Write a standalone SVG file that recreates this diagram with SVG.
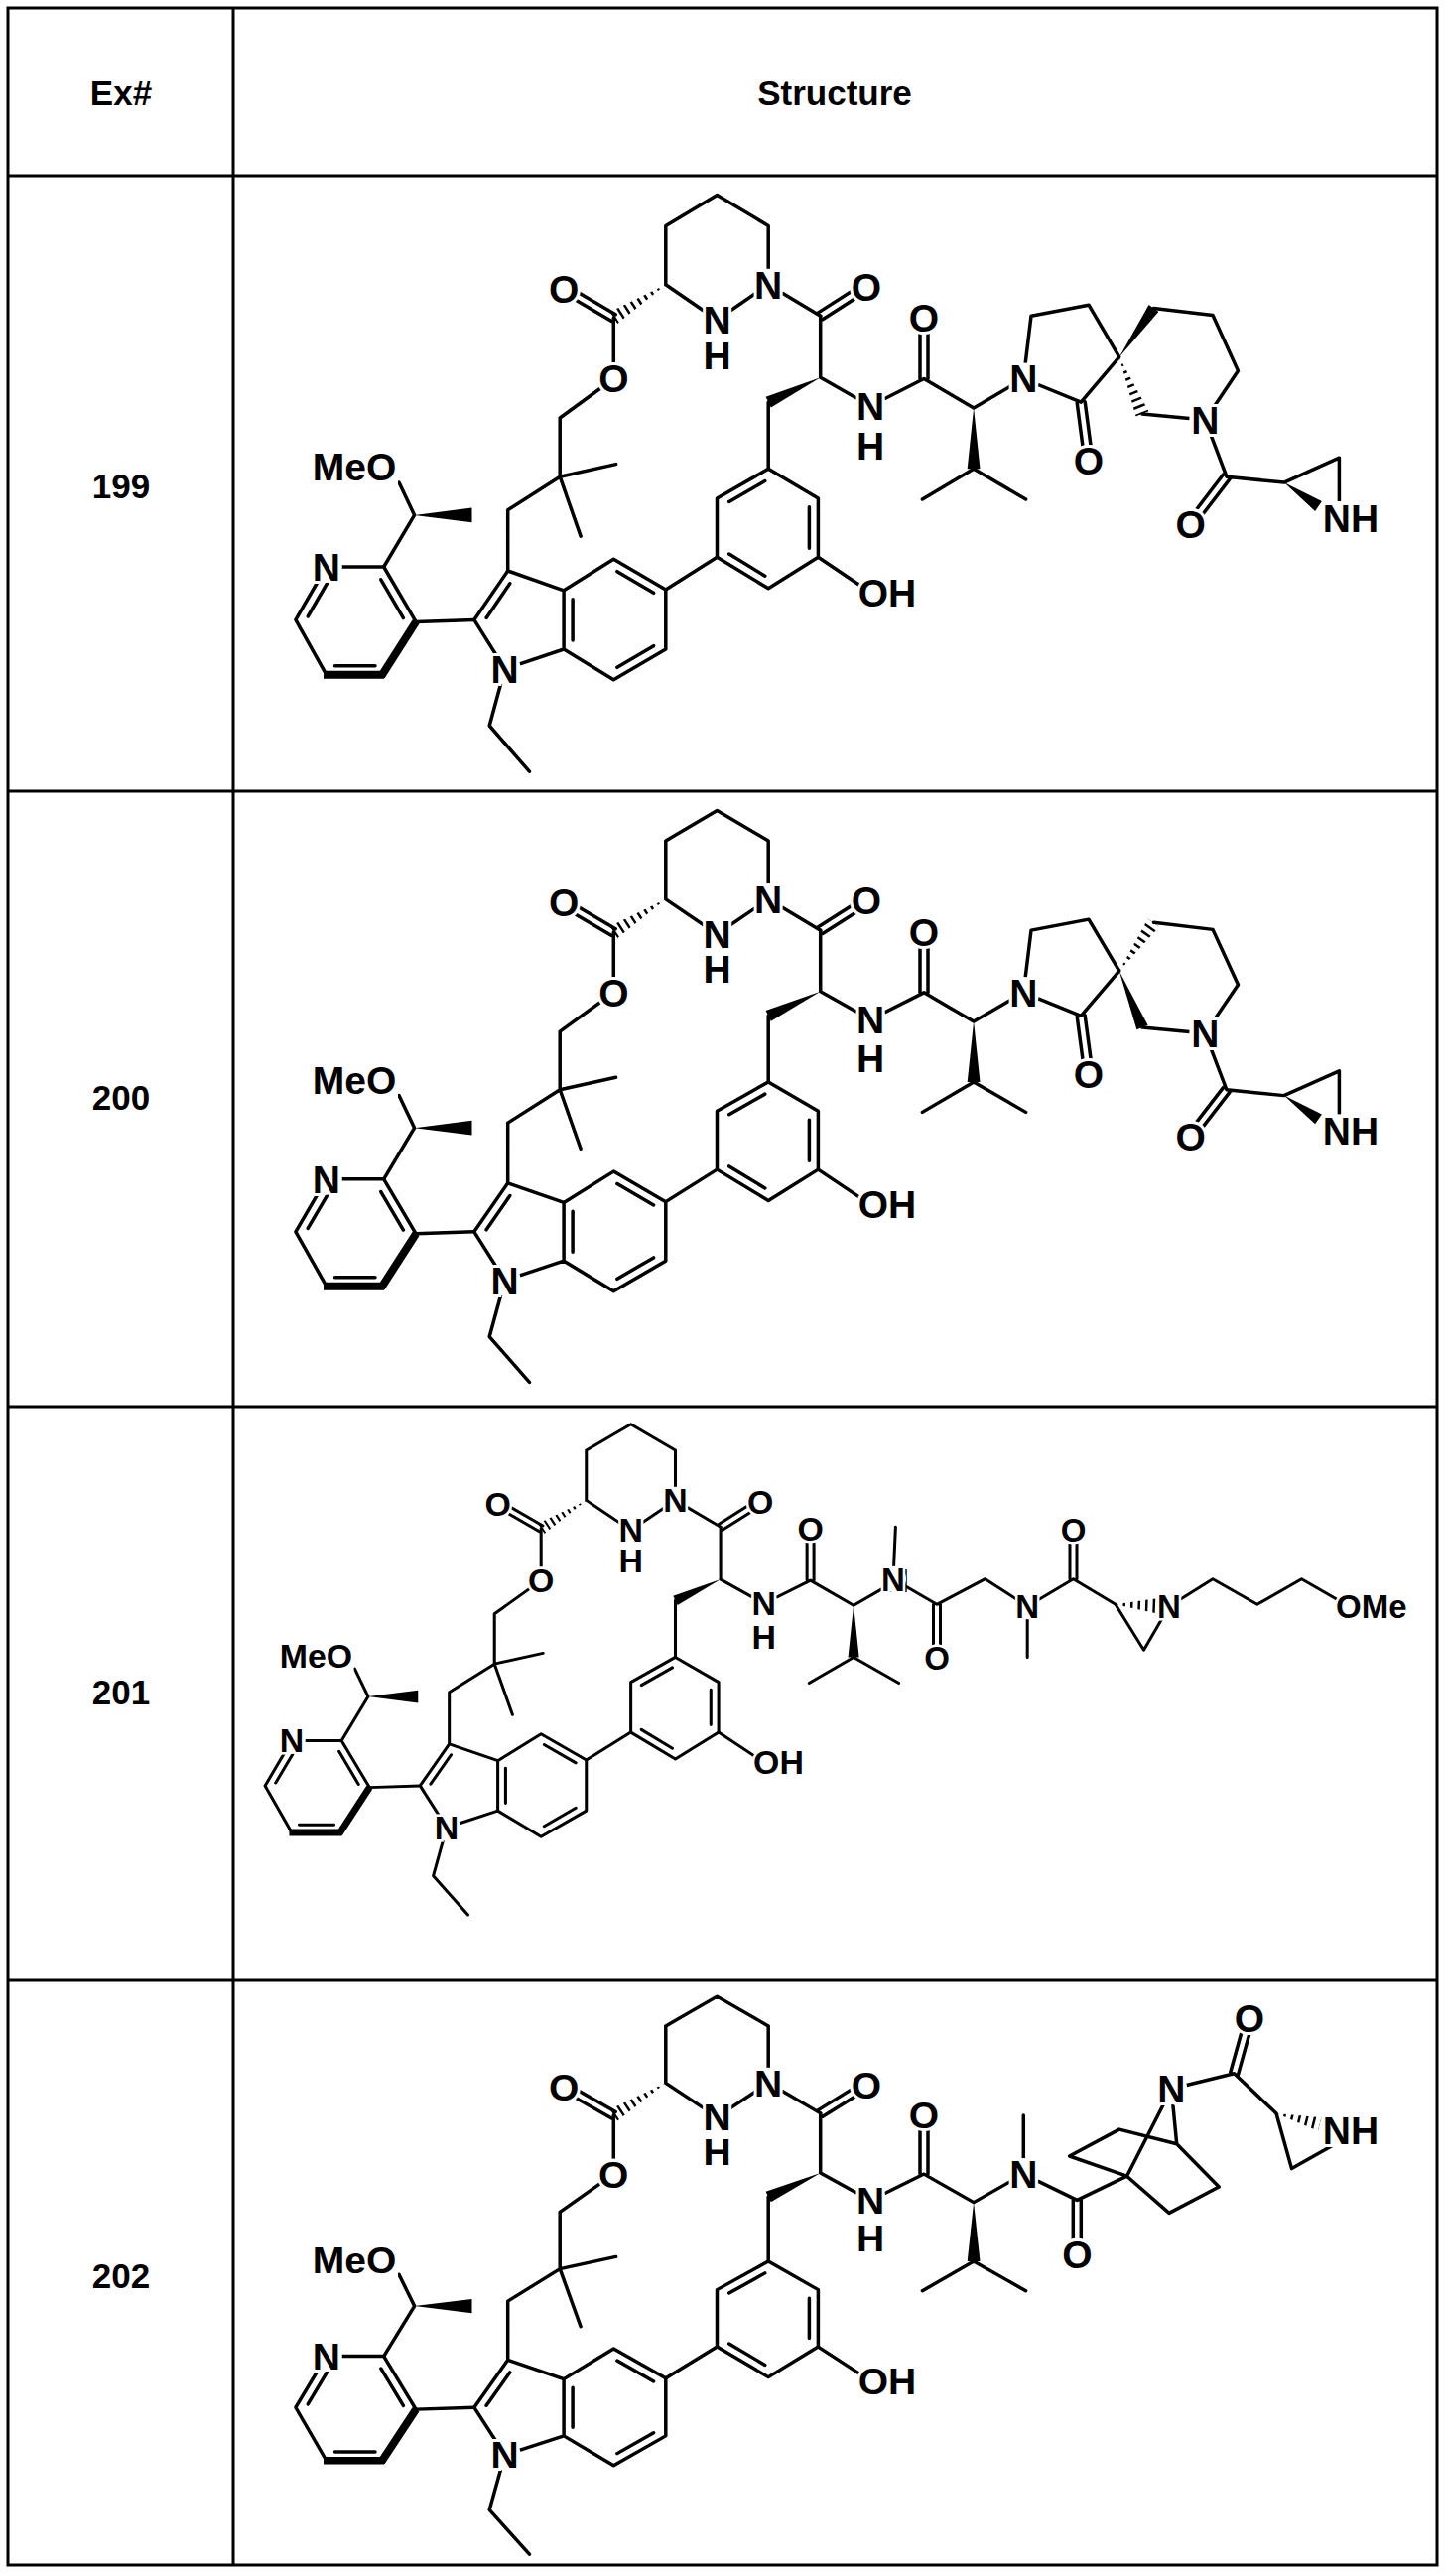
<svg xmlns="http://www.w3.org/2000/svg" xmlns:xlink="http://www.w3.org/1999/xlink" width="1457" height="2595" viewBox="0 0 1457 2595">
<style>
.b{stroke:#000;stroke-width:3.5;fill:none;stroke-linecap:round;stroke-linejoin:round}
.bb{stroke:#000;stroke-width:8;fill:none;stroke-linecap:butt}
.b2{stroke:#000;stroke-width:3;fill:none;stroke-linecap:round;stroke-linejoin:round}
.w{fill:#000;stroke:none}
.bg{fill:#fff;stroke:none}
.h{stroke:#000;stroke-width:16;stroke-dasharray:2.5 5;fill:none}
.t{font-family:"Liberation Sans",Arial,sans-serif;font-weight:bold;font-size:39px;text-anchor:middle;fill:#000;stroke:#fff;stroke-width:6;paint-order:stroke}
.t2{font-family:"Liberation Sans",Arial,sans-serif;font-weight:bold;font-size:33px;text-anchor:middle;fill:#000;stroke:#fff;stroke-width:5;paint-order:stroke}
.hd{font-family:"Liberation Sans",Arial,sans-serif;font-weight:bold;font-size:35px;text-anchor:middle;fill:#000}
.grid{stroke:#000;stroke-width:3;fill:none}
</style>
<defs>
<clipPath id="cEst"><polygon points="670.8,286.7 622.1,326.1 614.5,314.3"/></clipPath>
<clipPath id="cSp199"><polygon points="1127.8,359.7 1144.5,419.6 1157.5,414.4"/></clipPath>
<clipPath id="cSp200"><polygon points="1127.8,359.7 1168.2,314.4 1156.8,306.4"/></clipPath>
<clipPath id="cAz201"><polygon points="1124,1616.3 1165,1610.3 1165,1625.3"/></clipPath>
<clipPath id="cAz202"><polygon points="1286,2129 1328.3,2146.8 1331.7,2133.2"/></clipPath>
<g id="core">
<path class="b" d="M774.2,286.7 L774.2,227.4 L722.5,196.6 L670.8,227.4 L670.8,286.7 L722.5,322.2 M774.2,286.7 L722.5,322.2 M774.2,286.7 L826.7,318.3"/>
<line class="h" x1="670.8" y1="286.7" x2="618.3" y2="320.2" clip-path="url(#cEst)"/>
<path class="b" d="M620.3,316.8 L570.1,287.2 M616.3,323.6 L566.1,294"/>
<path class="b" d="M618.3,320.2 L618.3,381.5 L564.2,421 L564.2,480.2 L620.6,467.6 M564.2,480.2 L585.1,540.2 M564.2,480.2 L511.7,513.8 L511.7,575"/>
<path class="b" d="M511.7,575 L477.8,624.4 L508.7,673.8 L568.1,654 L568.1,594.8 L511.7,575 M568.1,594.8 L618.3,563.2 L670.8,594 L670.8,654 L618.3,684.8 L568.1,654"/>
<path class="b" d="M513.8,587.8 L490.1,622.4 M577.1,603.7 L577.1,645.1 M621.9,575.7 L658.6,597.3 M658.6,650.7 L621.9,672.3"/>
<path class="b" d="M508.7,673.8 L493.2,731 L533.4,777.2 M670.8,594 L722.5,561.2"/>
<path class="b" d="M774.2,472.3 L824.4,501.9 L824.4,561.2 L774.2,592.8 L722.5,561.2 L722.5,501.9 Z M770.8,484.6 L734.7,505.4 M815.4,510.8 L815.4,552.3 M734.7,558 L770.8,580.2"/>
<path class="b" d="M824.4,561.2 L877,596.7 M774.2,472.3 L774.2,405.2"/>
<polygon class="w" points="826.7,380.3 776.8,410.6 771.6,399.8"/>
<path class="b" d="M826.7,380.3 L826.7,318.3 M828.9,321.7 L875.2,292 M824.5,314.9 L870.8,285.2 M826.7,380.3 L877,409 M877,409 L931,381.5 L981.1,411 L1031.3,381.5 M927,381.5 L927,320.2 M935,381.5 L935,320.2"/>
<polygon class="w" points="981.1,411 987.5,472.3 974.7,472.3"/>
<path class="b" d="M981.1,472.3 L929.4,503 M981.1,472.3 L1033.6,503"/>
<path class="b" d="M386.7,571 L328.8,571 L297.9,624.4 L328.8,679.7 M386.7,679.7 L419.1,626.4 M419.1,626.4 L386.7,571 M331.9,583.6 L310.2,621 M383.8,583.8 L406.4,622.6 M337.5,670.7 L378,670.7"/>
<path class="bb" d="M326,679.7 L387,679.7 M384.2,681.2 L419.1,626.4"/>
<path class="b" d="M419.1,626.4 L477.8,624.4 M386.7,571 L417.6,518.9 L402,486"/>
<polygon class="w" points="417.6,518.9 475.5,511.5 475.5,526.3"/>
<circle class="bg" cx="774.2" cy="286.7" r="16"/>
<circle class="bg" cx="722.5" cy="322.2" r="16"/>
<circle class="bg" cx="722.5" cy="357.8" r="16"/>
<circle class="bg" cx="568.1" cy="290.6" r="16"/>
<circle class="bg" cx="618.3" cy="381.5" r="16"/>
<circle class="bg" cx="873" cy="288.6" r="16"/>
<circle class="bg" cx="877" cy="409" r="16"/>
<circle class="bg" cx="877" cy="448.6" r="16"/>
<circle class="bg" cx="931" cy="320.2" r="16"/>
<circle class="bg" cx="1031.3" cy="381.5" r="16"/>
<rect class="bg" x="866" y="580" width="56" height="34"/>
<circle class="bg" cx="508.7" cy="673.8" r="16"/>
<circle class="bg" cx="328.8" cy="571" r="16"/>
<rect class="bg" x="315" y="453" width="86" height="36"/>
<text class="t" x="774.2" y="300.6">N</text>
<text class="t" x="722.5" y="336.1">N</text>
<text class="t" x="722.5" y="371.7">H</text>
<text class="t" x="568.1" y="304.5">O</text>
<text class="t" x="618.3" y="395.4">O</text>
<text class="t" x="873" y="302.5">O</text>
<text class="t" x="877" y="422.9">N</text>
<text class="t" x="877" y="462.5">H</text>
<text class="t" x="931" y="334.1">O</text>
<text class="t" x="1031.3" y="395.4">N</text>
<text class="t" x="894" y="610.6">OH</text>
<text class="t" x="508.7" y="687.7">N</text>
<text class="t" x="328.8" y="584.9">N</text>
<text class="t" x="357" y="484.2">MeO</text>
</g>
<g id="spiroA">
<path class="b" d="M1031.3,381.5 L1039,318.3 L1097,307.2 L1127.8,359.7 L1089.2,405.2 L1031.3,381.5 M1085.2,405.7 L1093,464.9 M1093.2,404.7 L1101,463.9"/>
<path class="b" d="M1162.5,310.4 L1222,317.5 L1247.5,373.6 L1214.3,422.9 L1151,417 M1214.3,422.9 L1235.9,480.2 L1293.8,486.1 L1349.4,461.2 L1349.4,510 M1239.1,482.6 L1202.8,530 M1232.7,477.8 L1196.4,525.2"/>
<polygon class="w" points="1293.8,486.1 1325.1,514.9 1331.9,505.1"/>
<circle class="bg" cx="1031.3" cy="381.5" r="16"/>
<circle class="bg" cx="1097" cy="464.4" r="16"/>
<circle class="bg" cx="1214.3" cy="422.9" r="16"/>
<circle class="bg" cx="1199.6" cy="527.6" r="16"/>
<rect class="bg" x="1334" y="505" width="54" height="34"/>
<text class="t" x="1031.3" y="395.4">N</text>
<text class="t" x="1097" y="478.3">O</text>
<text class="t" x="1214.3" y="436.8">N</text>
<text class="t" x="1199.6" y="541.5">O</text>
<text class="t" x="1361" y="535.6">NH</text>
</g>
</defs>

<g id="table">
<rect class="grid" x="8" y="8" width="1440" height="2576"/>
<line class="grid" x1="235" y1="8" x2="235" y2="2584"/>
<line class="grid" x1="8" y1="177" x2="1448" y2="177"/>
<line class="grid" x1="8" y1="797" x2="1448" y2="797"/>
<line class="grid" x1="8" y1="1417" x2="1448" y2="1417"/>
<line class="grid" x1="8" y1="1995" x2="1448" y2="1995"/>
<text class="hd" x="122" y="106">Ex#</text>
<text class="hd" x="841" y="106">Structure</text>
<text class="hd" x="122" y="502">199</text>
<text class="hd" x="122" y="1118">200</text>
<text class="hd" x="122" y="1717">201</text>
<text class="hd" x="122" y="2305">202</text>
</g>

<g id="ex199">
<use xlink:href="#core" href="#core"/>
<polygon class="w" points="1127.8,359.7 1167.4,313.9 1157.6,306.9"/>
<line class="h" x1="1127.8" y1="359.7" x2="1151" y2="417" clip-path="url(#cSp199)"/>
<use xlink:href="#spiroA" href="#spiroA"/>
</g>

<g id="ex200" transform="matrix(1,0,0,0.992,0,621.4)">
<use xlink:href="#core" href="#core"/>
<polygon class="w" points="1127.8,359.7 1145.4,419.3 1156.6,414.7"/>
<line class="h" x1="1127.8" y1="359.7" x2="1162.5" y2="310.4" clip-path="url(#cSp200)"/>
<use xlink:href="#spiroA" href="#spiroA"/>
</g>

<g id="ex201">
<use xlink:href="#core" href="#core" transform="matrix(0.868,0,0,0.8514,8.5,1267.3)"/>
<path class="b2" d="M900,1590.7 L902.4,1538.2 M900,1590.7 L944,1616.3 L992.7,1590.7 L1035.2,1618.2 L1081.5,1590.7 L1124,1616.3 M940.5,1616.3 L940.5,1669.6 M947.5,1616.3 L947.5,1669.6 M1035.2,1618.2 L1035.2,1669.6 M1078,1590.7 L1078,1541.1 M1085,1590.7 L1085,1541.1"/>
<line class="h" style="stroke-width:15" x1="1124" y1="1616.3" x2="1165" y2="1617.8" clip-path="url(#cAz201)"/>
<path class="b2" d="M1124,1616.3 L1152.5,1662.2 L1178,1618.2 L1222,1590.7 L1266.8,1616.3 L1311.5,1590.7 L1352,1614"/>
<circle class="bg" cx="900" cy="1590.7" r="13"/>
<circle class="bg" cx="944" cy="1669.6" r="13"/>
<circle class="bg" cx="1035.2" cy="1618.2" r="13"/>
<circle class="bg" cx="1081.5" cy="1541.1" r="13"/>
<circle class="bg" cx="1178" cy="1618.2" r="13"/>
<rect class="bg" x="1350" y="1603" width="64" height="30"/>
<text class="t2" x="900" y="1602.6">N</text>
<text class="t2" x="944" y="1681.5">O</text>
<text class="t2" x="1035.2" y="1630.1">N</text>
<text class="t2" x="1081.5" y="1553">O</text>
<text class="t2" x="1178" y="1630.1">N</text>
<text class="t2" x="1381.8" y="1630.1">OMe</text>
</g>

<g id="ex202">
<use xlink:href="#core" href="#core" transform="matrix(1,0,0,0.968,0,1820.8)"/>
<path class="b" d="M1031.3,2190.1 L1031.3,2131 M1031.3,2190.1 L1085.3,2216.4 L1135.5,2192.2 L1077.6,2172 L1127.8,2145.1 L1185.7,2159.7 M1135.5,2192.2 L1178,2229.4 L1228.2,2203 L1185.7,2159.7 M1135.5,2192.2 L1180.3,2104.2 L1185.7,2159.7 M1180.3,2104.2 L1243.6,2088.8 L1286,2129 L1301.5,2184.6 L1345,2160 M1081.3,2216.4 L1081.3,2270.8 M1089.3,2216.4 L1089.3,2270.8 M1239.7,2087.7 L1255.1,2032.2 M1247.5,2089.9 L1262.9,2034.4"/>
<line class="h" x1="1286" y1="2129" x2="1330" y2="2140" clip-path="url(#cAz202)"/>
<circle class="bg" cx="1031.3" cy="2190.1" r="16"/>
<circle class="bg" cx="1085.3" cy="2270.8" r="16"/>
<circle class="bg" cx="1180.3" cy="2104.2" r="16"/>
<circle class="bg" cx="1259" cy="2033.3" r="16"/>
<rect class="bg" x="1334" y="2129" width="54" height="34"/>
<text class="t" x="1031.3" y="2203.8">N</text>
<text class="t" x="1085.3" y="2284.5">O</text>
<text class="t" x="1180.3" y="2117.9">N</text>
<text class="t" x="1259" y="2047">O</text>
<text class="t" x="1361" y="2160">NH</text>
</g>
</svg>
